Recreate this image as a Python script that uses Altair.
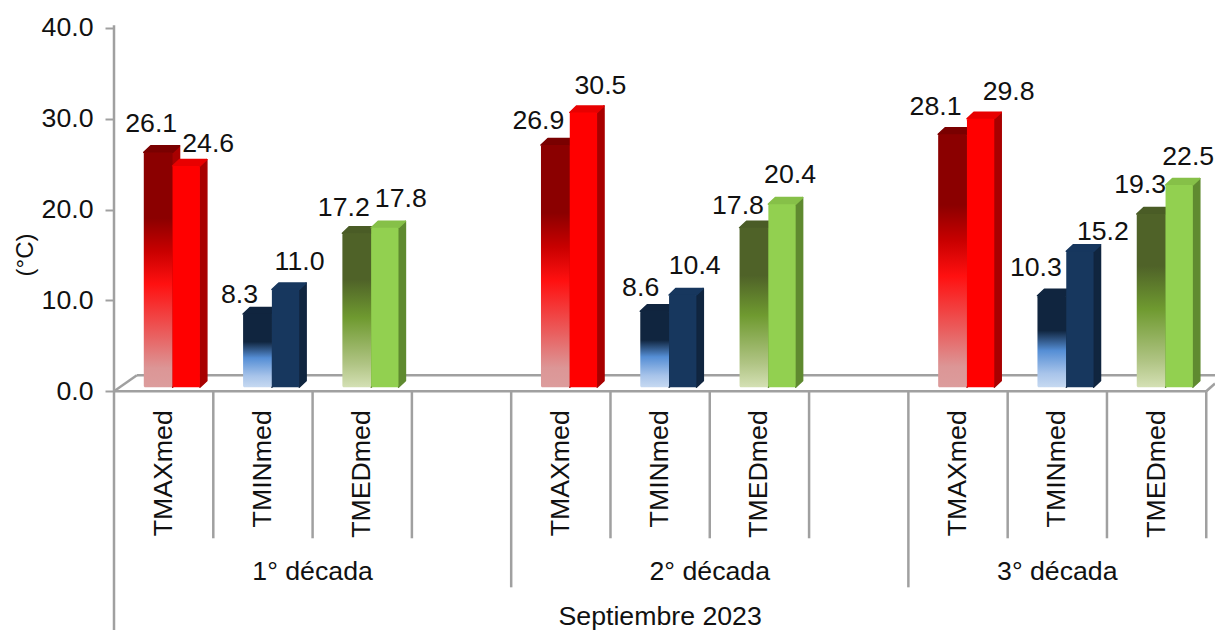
import altair as alt
import pandas as pd

# --- chart values ---
decades = ["1° década", "2° década", "3° década"]
measures = ["TMAXmed", "TMINmed", "TMEDmed"]
period = "Septiembre 2023"
y_ticks = [0, 10, 20, 30, 40]
# one value per decade, per measure
dark_values = [26.1, 8.3, 17.2, 26.9, 8.6, 17.8, 28.1, 10.3, 19.3]
bright_values = [24.6, 11.0, 17.8, 30.5, 10.4, 20.4, 29.8, 15.2, 22.5]
category_slots = [0, 1, 2, 4, 5, 6, 8, 9, 10]
series_of_bar = [0, 1, 2, 0, 1, 2, 0, 1, 2]

# --- layout (data units; 1 x unit = one category) ---
PX_X, PX_Y = 99.3, 9.075
FLOOR = 0.44
TOP_SHIFT = 0.2
DEPTH_X, DEPTH_Y = 0.07, 0.72
DARK = (0.30, 0.59)
BRIGHT = (0.59, 0.865)
XDOM = [0, 11.088]
YDOM = [-26.3, 42.2]
GRAY = "#a0a0a0"
FONT = "Liberation Sans"
FS = 26.7

# label nudges in px, relative to the top centre of each bar
dark_nudge = [(-7, -26), (-18, -17), (-13, -23), (-17, -22), (-14, -21), (-16, -20), (-17, -25), (-16, -26), (-11, -27)]
bright_nudge = [(22, -20), (14, -25), (16, -27), (17, -24), (12, -27), (8, -27), (28, -25), (23, -17), (9, -26)]

def grad(stops):
    return alt.Gradient(gradient="linear", x1=0, y1=0, x2=0, y2=1,
                        stops=[alt.GradientStop(offset=o, color=c) for o, c in stops])

dark_grads = [
    grad([(0, "#8b0000"), (0.28, "#8b0000"), (0.42, "#c80000"), (0.56, "#ff1010"), (0.78, "#e96060"), (0.92, "#dc9696"), (1, "#dc9c9c")]),
    grad([(0, "#10253f"), (0.38, "#10253f"), (0.60, "#558ed5"), (0.85, "#a8c4ea"), (1, "#c6d9f1")]),
    grad([(0, "#4f6228"), (0.30, "#4f6228"), (0.55, "#6f9a30"), (0.85, "#b0c484"), (1, "#d4e0b4")]),
]
bright_fill = ["#ff0000", "#17375e", "#92d050"]
side_fill = ["#a80000", "#10253f", "#5f8a30"]
dark_cap = ["#7a0000", "#10253f", "#4a5c26"]
bright_cap = ["#e80000", "#17375e", "#86c048"]

x_scale = alt.Scale(domain=XDOM, nice=False, zero=False)
y_scale = alt.Scale(domain=YDOM, nice=False, zero=False)
y_axis = alt.Axis(
    values=y_ticks, format=".1f", title=None, grid=False, domain=False,
    tickColor=GRAY, tickWidth=2, tickSize=9, labelPadding=12,
    labelFont=FONT, labelFontSize=FS, labelColor="#111111")
X = alt.X("x:Q", scale=x_scale, axis=None)
Y = alt.Y("y:Q", scale=y_scale, axis=y_axis)


def segments(rows, width=2.5):
    df = pd.DataFrame(rows, columns=["x", "y", "x2", "y2"])
    return alt.Chart(df).mark_rule(color=GRAY, strokeWidth=width).encode(
        x=X, y=Y, x2="x2:Q", y2="y2:Q")


def bar_faces(slot, span, value, fill, side, cap):
    x0, x1 = slot + span[0], slot + span[1]
    top = value + TOP_SHIFT
    layers = []
    # side face
    side_df = pd.DataFrame({
        "x": [x1, x1 + DEPTH_X],
        "y": [FLOOR, FLOOR + DEPTH_Y],
        "y2": [top, top + DEPTH_Y],
    })
    layers.append(alt.Chart(side_df).mark_area(
        color=side, stroke=side, strokeWidth=1.5, strokeJoin="round"
    ).encode(x=X, y=Y, y2="y2:Q"))
    # top cap
    cap_df = pd.DataFrame({
        "x": [x0, x0 + DEPTH_X, x1, x1 + DEPTH_X],
        "y": [top, top, top, top + DEPTH_Y],
        "y2": [top, top + DEPTH_Y, top + DEPTH_Y, top + DEPTH_Y],
    })
    layers.append(alt.Chart(cap_df).mark_area(
        color=cap, stroke=cap, strokeWidth=1.5, strokeJoin="round"
    ).encode(x=X, y=Y, y2="y2:Q"))
    # front face
    front_df = pd.DataFrame({"x": [x0], "x2": [x1], "y": [FLOOR], "y2": [top]})
    layers.append(alt.Chart(front_df).mark_bar(color=fill, cornerRadius=1.5).encode(
        x=X, x2="x2:Q", y=Y, y2="y2:Q"))
    return layers


layers = []

# floor and frame
layers.append(segments([
    (0, 40.3, 0, YDOM[0]),
    (0, 0, 11, 0),
    (0, 0, 0.23, 1.76),
    (0.23, 1.76, XDOM[1], 1.76),
    (11, 0, XDOM[1], 0.85),
]))
# category separators
layers.append(segments([(k, 0, k, -16.2) for k in [1, 2, 3, 5, 6, 7, 9, 10, 11]]))
layers.append(segments([(k, 0, k, -21.6) for k in [4, 8]]))

# bars
for slot, s, dv, bv in zip(category_slots, series_of_bar, dark_values, bright_values):
    layers += bar_faces(slot, DARK, dv, dark_grads[s], side_fill[s], dark_cap[s])
    layers += bar_faces(slot, BRIGHT, bv, bright_fill[s], side_fill[s], bright_cap[s])

# value labels
rows = []
for slot, dv, bv, dn, bn in zip(category_slots, dark_values, bright_values, dark_nudge, bright_nudge):
    rows.append((slot + sum(DARK) / 2 + dn[0] / PX_X, dv + FLOOR - dn[1] / PX_Y, f"{dv:.1f}"))
    rows.append((slot + sum(BRIGHT) / 2 + bn[0] / PX_X, bv + FLOOR - bn[1] / PX_Y, f"{bv:.1f}"))
labels_df = pd.DataFrame(rows, columns=["x", "y", "t"])
layers.append(alt.Chart(labels_df).mark_text(
    font=FONT, fontSize=FS, color="#111111", align="center", baseline="middle"
).encode(x=X, y=Y, text="t:N"))

# category labels
cat_rows = [(slot + 0.5, m) for slot, m in zip(category_slots, measures * len(decades))]
cat_df = pd.DataFrame(cat_rows, columns=["x", "t"]).assign(y=-2.1)
layers.append(alt.Chart(cat_df).mark_text(
    font=FONT, fontSize=FS, color="#111111", angle=270, align="right", baseline="middle"
).encode(x=X, y=Y, text="t:N"))

# decade labels
dec_df = pd.DataFrame({"x": [2, 6, 9.5], "y": [-19.9] * 3, "t": decades})
layers.append(alt.Chart(dec_df).mark_text(
    font=FONT, fontSize=FS, color="#111111", align="center", baseline="middle"
).encode(x=X, y=Y, text="t:N"))

# period label
per_df = pd.DataFrame({"x": [5.5], "y": [-24.9], "t": [period]})
layers.append(alt.Chart(per_df).mark_text(
    font=FONT, fontSize=FS, color="#111111", align="center", baseline="middle"
).encode(x=X, y=Y, text="t:N"))

# y title
ttl_df = pd.DataFrame({"x": [-0.89], "y": [15.0], "t": ["(°C)"]})
layers.append(alt.Chart(ttl_df).mark_text(
    font=FONT, fontSize=24, color="#111111", angle=270, align="center", baseline="middle"
).encode(x=X, y=Y, text="t:N"))

chart = alt.layer(*layers).properties(
    width=1101, height=622,
    autosize=alt.AutoSizeParams(type="none"),
    padding={"left": 106, "top": 0, "right": 0, "bottom": 0},
    background="white",
).configure_view(stroke=None)

chart.save("out.html", embed_options={"renderer": "svg", "actions": False})
